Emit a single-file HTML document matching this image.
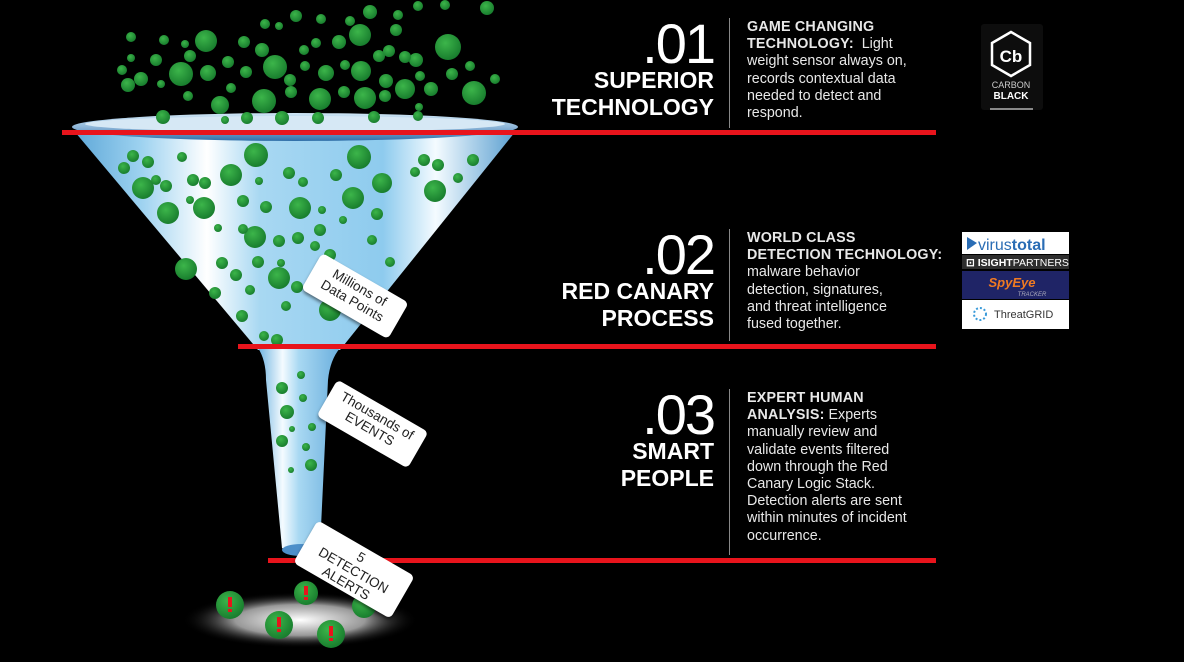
<!DOCTYPE html>
<html><head><meta charset="utf-8"><style>
html,body{margin:0;padding:0;background:#000;}
body{width:1184px;height:662px;position:relative;overflow:hidden;font-family:"Liberation Sans",sans-serif;color:#fff;}
.num{position:absolute;right:470px;font-size:56px;line-height:56px;letter-spacing:-2px;text-align:right;}
.tt{position:absolute;right:470px;font-size:23px;line-height:27px;font-weight:bold;text-align:right;}
.body{position:absolute;left:747px;font-size:14.3px;line-height:17.2px;color:#e8e8e8;}
.body b{font-weight:bold;letter-spacing:0.2px}
.vl{position:absolute;left:729px;width:1px;background:#888;}
.card{position:absolute;background:#fff;color:#222;border-radius:5px;text-align:center;font-size:13.5px;line-height:15px;box-shadow:1px 2px 3px rgba(0,0,0,.5);}
</style></head><body>
<svg width="1184" height="662" style="position:absolute;left:0;top:0">
<defs>
<linearGradient id="cone" x1="0" x2="1" y1="0" y2="0">
<stop offset="0" stop-color="#5fa8d8"/><stop offset="0.15" stop-color="#9dd2f0"/><stop offset="0.3" stop-color="#ffffff"/><stop offset="0.42" stop-color="#a8d8f2"/><stop offset="0.7" stop-color="#8ecbee"/><stop offset="0.82" stop-color="#f4fbff"/><stop offset="1" stop-color="#5a9fd0"/>
</linearGradient>
<linearGradient id="neck" x1="0" x2="1"><stop offset="0" stop-color="#6fb3e0"/><stop offset="0.3" stop-color="#f4fbff"/><stop offset="0.5" stop-color="#a8d8f2"/><stop offset="1" stop-color="#6aaedd"/></linearGradient>
<radialGradient id="g" cx="0.4" cy="0.35" r="0.7"><stop offset="0" stop-color="#3cb54a"/><stop offset="1" stop-color="#167a2c"/></radialGradient>
<radialGradient id="spot" cx="0.5" cy="0.5" r="0.5"><stop offset="0" stop-color="#fff"/><stop offset="0.55" stop-color="#999"/><stop offset="1" stop-color="#000" stop-opacity="0"/></radialGradient>
<linearGradient id="rim" x1="0" x2="0" y1="0" y2="1"><stop offset="0" stop-color="#cfe6f5"/><stop offset="0.5" stop-color="#8fb7d9"/><stop offset="1" stop-color="#2f6fa8"/></linearGradient>
</defs>
<ellipse cx="300" cy="620" rx="118" ry="28" fill="url(#spot)"/>
<path d="M75,132 L515,132 L340,350 L258,350 Z" fill="url(#cone)"/>
<path d="M258,348 Q266,360 266,380 L282,548 Q300,560 320,548 L328,380 Q330,360 340,348 Z" fill="url(#neck)"/>
<ellipse cx="301" cy="550" rx="19" ry="6" fill="#4d8fc9"/>
<ellipse cx="295" cy="127" rx="223" ry="14" fill="url(#rim)"/>
<ellipse cx="295" cy="124" rx="210" ry="8" fill="#d6e8f5"/>
<g fill="url(#g)">
<circle cx="131" cy="37" r="5"/><circle cx="206" cy="41" r="11"/><circle cx="279" cy="26" r="4"/><circle cx="296" cy="16" r="6"/><circle cx="321" cy="19" r="5"/><circle cx="350" cy="21" r="5"/><circle cx="370" cy="12" r="7"/><circle cx="398" cy="15" r="5"/><circle cx="418" cy="6" r="5"/><circle cx="445" cy="5" r="5"/><circle cx="487" cy="8" r="7"/>
<circle cx="131" cy="58" r="4"/><circle cx="156" cy="60" r="6"/><circle cx="181" cy="74" r="12"/><circle cx="208" cy="73" r="8"/><circle cx="128" cy="85" r="7"/><circle cx="141" cy="79" r="7"/><circle cx="185" cy="44" r="4"/><circle cx="265" cy="24" r="5"/><circle cx="262" cy="50" r="7"/><circle cx="275" cy="67" r="12"/><circle cx="304" cy="50" r="5"/><circle cx="316" cy="43" r="5"/><circle cx="339" cy="42" r="7"/><circle cx="360" cy="35" r="11"/><circle cx="379" cy="56" r="6"/><circle cx="361" cy="71" r="10"/><circle cx="396" cy="30" r="6"/><circle cx="416" cy="60" r="7"/><circle cx="448" cy="47" r="13"/><circle cx="452" cy="74" r="6"/><circle cx="470" cy="66" r="5"/><circle cx="495" cy="79" r="5"/><circle cx="474" cy="93" r="12"/><circle cx="431" cy="89" r="7"/><circle cx="420" cy="76" r="5"/><circle cx="405" cy="89" r="10"/><circle cx="386" cy="81" r="7"/><circle cx="389" cy="51" r="6"/>
<circle cx="122" cy="70" r="5"/><circle cx="161" cy="84" r="4"/><circle cx="190" cy="56" r="6"/><circle cx="228" cy="62" r="6"/><circle cx="246" cy="72" r="6"/><circle cx="188" cy="96" r="5"/><circle cx="220" cy="105" r="9"/><circle cx="264" cy="101" r="12"/><circle cx="231" cy="88" r="5"/><circle cx="290" cy="80" r="6"/><circle cx="326" cy="73" r="8"/><circle cx="320" cy="99" r="11"/><circle cx="291" cy="92" r="6"/><circle cx="344" cy="92" r="6"/><circle cx="365" cy="98" r="11"/><circle cx="385" cy="96" r="6"/><circle cx="405" cy="57" r="6"/><circle cx="345" cy="65" r="5"/><circle cx="244" cy="42" r="6"/><circle cx="164" cy="40" r="5"/><circle cx="305" cy="66" r="5"/><circle cx="225" cy="120" r="4"/><circle cx="318" cy="118" r="6"/><circle cx="374" cy="117" r="6"/><circle cx="418" cy="116" r="5"/><circle cx="419" cy="107" r="4"/><circle cx="163" cy="117" r="7"/><circle cx="247" cy="118" r="6"/><circle cx="282" cy="118" r="7"/>
<circle cx="133" cy="156" r="6"/><circle cx="148" cy="162" r="6"/><circle cx="182" cy="157" r="5"/><circle cx="256" cy="155" r="12"/><circle cx="359" cy="157" r="12"/><circle cx="424" cy="160" r="6"/><circle cx="438" cy="165" r="6"/><circle cx="473" cy="160" r="6"/><circle cx="124" cy="168" r="6"/><circle cx="143" cy="188" r="11"/><circle cx="156" cy="180" r="5"/><circle cx="166" cy="186" r="6"/><circle cx="193" cy="180" r="6"/><circle cx="205" cy="183" r="6"/><circle cx="231" cy="175" r="11"/><circle cx="259" cy="181" r="4"/><circle cx="289" cy="173" r="6"/><circle cx="303" cy="182" r="5"/><circle cx="336" cy="175" r="6"/><circle cx="382" cy="183" r="10"/><circle cx="415" cy="172" r="5"/><circle cx="435" cy="191" r="11"/><circle cx="458" cy="178" r="5"/><circle cx="168" cy="213" r="11"/><circle cx="204" cy="208" r="11"/><circle cx="190" cy="200" r="4"/><circle cx="243" cy="201" r="6"/><circle cx="266" cy="207" r="6"/><circle cx="300" cy="208" r="11"/><circle cx="353" cy="198" r="11"/><circle cx="343" cy="220" r="4"/><circle cx="322" cy="210" r="4"/><circle cx="377" cy="214" r="6"/><circle cx="218" cy="228" r="4"/><circle cx="255" cy="237" r="11"/><circle cx="279" cy="241" r="6"/><circle cx="243" cy="229" r="5"/><circle cx="320" cy="230" r="6"/><circle cx="330" cy="255" r="6"/><circle cx="372" cy="240" r="5"/><circle cx="298" cy="238" r="6"/><circle cx="222" cy="263" r="6"/><circle cx="258" cy="262" r="6"/><circle cx="281" cy="263" r="4"/><circle cx="315" cy="246" r="5"/><circle cx="186" cy="269" r="11"/><circle cx="236" cy="275" r="6"/><circle cx="279" cy="278" r="11"/><circle cx="329" cy="281" r="7"/><circle cx="357" cy="278" r="4"/><circle cx="390" cy="262" r="5"/><circle cx="215" cy="293" r="6"/><circle cx="250" cy="290" r="5"/><circle cx="297" cy="287" r="6"/><circle cx="242" cy="316" r="6"/><circle cx="286" cy="306" r="5"/><circle cx="277" cy="340" r="6"/><circle cx="330" cy="310" r="11"/><circle cx="264" cy="336" r="5"/>
<circle cx="301" cy="375" r="4"/><circle cx="282" cy="388" r="6"/><circle cx="303" cy="398" r="4"/><circle cx="287" cy="412" r="7"/><circle cx="292" cy="429" r="3"/><circle cx="312" cy="427" r="4"/><circle cx="282" cy="441" r="6"/><circle cx="306" cy="447" r="4"/><circle cx="311" cy="465" r="6"/><circle cx="291" cy="470" r="3"/>
</g>
<line x1="62" y1="132.5" x2="936" y2="132.5" stroke="#e8141c" stroke-width="5"/>
<line x1="238" y1="346.5" x2="936" y2="346.5" stroke="#e8141c" stroke-width="5"/>
<line x1="268" y1="560.5" x2="936" y2="560.5" stroke="#e8141c" stroke-width="5"/>
<g fill="url(#g)">
<circle cx="230" cy="605" r="14"/><circle cx="306" cy="593" r="12"/><circle cx="364" cy="606" r="12"/><circle cx="279" cy="625" r="14"/><circle cx="331" cy="634" r="14"/>
</g>
<g fill="#e8141c">
<rect x="228" y="597" width="4" height="10"/><rect x="228" y="609" width="4" height="3"/>
<rect x="304" y="586" width="4" height="9"/><rect x="304" y="597" width="4" height="3"/>
<rect x="277" y="617" width="4" height="10"/><rect x="277" y="629" width="4" height="3"/>
<rect x="329" y="626" width="4" height="10"/><rect x="329" y="638" width="4" height="3"/>
</g>
<rect x="981" y="24" width="62" height="86" rx="3" fill="#0d0d0d"/>
<polygon points="1011,32 1030,43 1030,65 1011,76 992,65 992,43" fill="none" stroke="#fff" stroke-width="2.5"/>
<text x="1011" y="62" font-family="Liberation Sans" font-weight="bold" font-size="17" fill="#fff" text-anchor="middle">Cb</text>
<text x="1011" y="88" font-family="Liberation Sans" font-size="9" fill="#ccc" text-anchor="middle">CARBON</text>
<text x="1011" y="99" font-family="Liberation Sans" font-weight="bold" font-size="10" fill="#fff" text-anchor="middle">BLACK</text>
<rect x="990" y="108" width="43" height="2" fill="#888"/>
<rect x="962" y="232" width="107" height="22" fill="#fff"/>
<polygon points="967,237 977,243 967,250" fill="#2a6db5"/>
<text x="978" y="250" font-family="Liberation Sans" font-size="16" fill="#2a6db5">virus<tspan font-weight="bold">total</tspan></text>
<rect x="962" y="255" width="107" height="14" fill="#2e2e2e"/>
<text x="966" y="266" font-family="Liberation Sans" font-size="10.5" fill="#fff"><tspan font-weight="bold">⊡ ISIGHT</tspan>PARTNERS</text>
<rect x="962" y="271" width="107" height="28" fill="#1f2466"/>
<text x="1012" y="287" font-family="Liberation Sans" font-style="italic" font-weight="bold" font-size="13" fill="#f07a22" text-anchor="middle">SpyEye</text>
<text x="1032" y="296" font-family="Liberation Sans" font-style="italic" font-size="6" fill="#aab" text-anchor="middle">TRACKER</text>
<rect x="962" y="300" width="107" height="29" fill="#fff"/>
<circle cx="980" cy="314" r="6" fill="none" stroke="#3a9ad9" stroke-width="2" stroke-dasharray="2 2"/>
<text x="994" y="318" font-family="Liberation Sans" font-size="11" fill="#333">ThreatGRID</text>
</svg>
<div class="num" style="top:16px">.01</div>
<div class="tt" style="top:67px">SUPERIOR<br>TECHNOLOGY</div>
<div class="vl" style="top:18px;height:110px"></div>
<div class="body" style="top:19px"><b>GAME CHANGING<br>TECHNOLOGY:</b>&nbsp; Light<br>weight sensor always on,<br>records contextual data<br>needed to detect and<br>respond.</div>

<div class="num" style="top:227px">.02</div>
<div class="tt" style="top:278px">RED CANARY<br>PROCESS</div>
<div class="vl" style="top:229px;height:112px"></div>
<div class="body" style="top:230px"><b>WORLD CLASS<br>DETECTION TECHNOLOGY:</b><br>malware behavior<br>detection, signatures,<br>and threat intelligence<br>fused together.</div>

<div class="num" style="top:387px">.03</div>
<div class="tt" style="top:438px">SMART<br>PEOPLE</div>
<div class="vl" style="top:389px;height:166px"></div>
<div class="body" style="top:390px"><b>EXPERT HUMAN<br>ANALYSIS:</b> Experts<br>manually review and<br>validate events filtered<br>down through the Red<br>Canary Logic Stack.<br>Detection alerts are sent<br>within minutes of incident<br>occurrence.</div>

<div class="card" style="left:305px;top:275px;width:100px;height:38px;transform:rotate(30deg);padding-top:4px">Millions of<br>Data Points</div>
<div class="card" style="left:320px;top:403px;width:105px;height:38px;transform:rotate(30deg);padding-top:4px">Thousands of<br>EVENTS</div>
<div class="card" style="left:298px;top:545px;width:112px;height:46px;transform:rotate(30deg);padding-top:3px;font-size:13.5px">5<br>DETECTION<br>ALERTS</div>
</body></html>
